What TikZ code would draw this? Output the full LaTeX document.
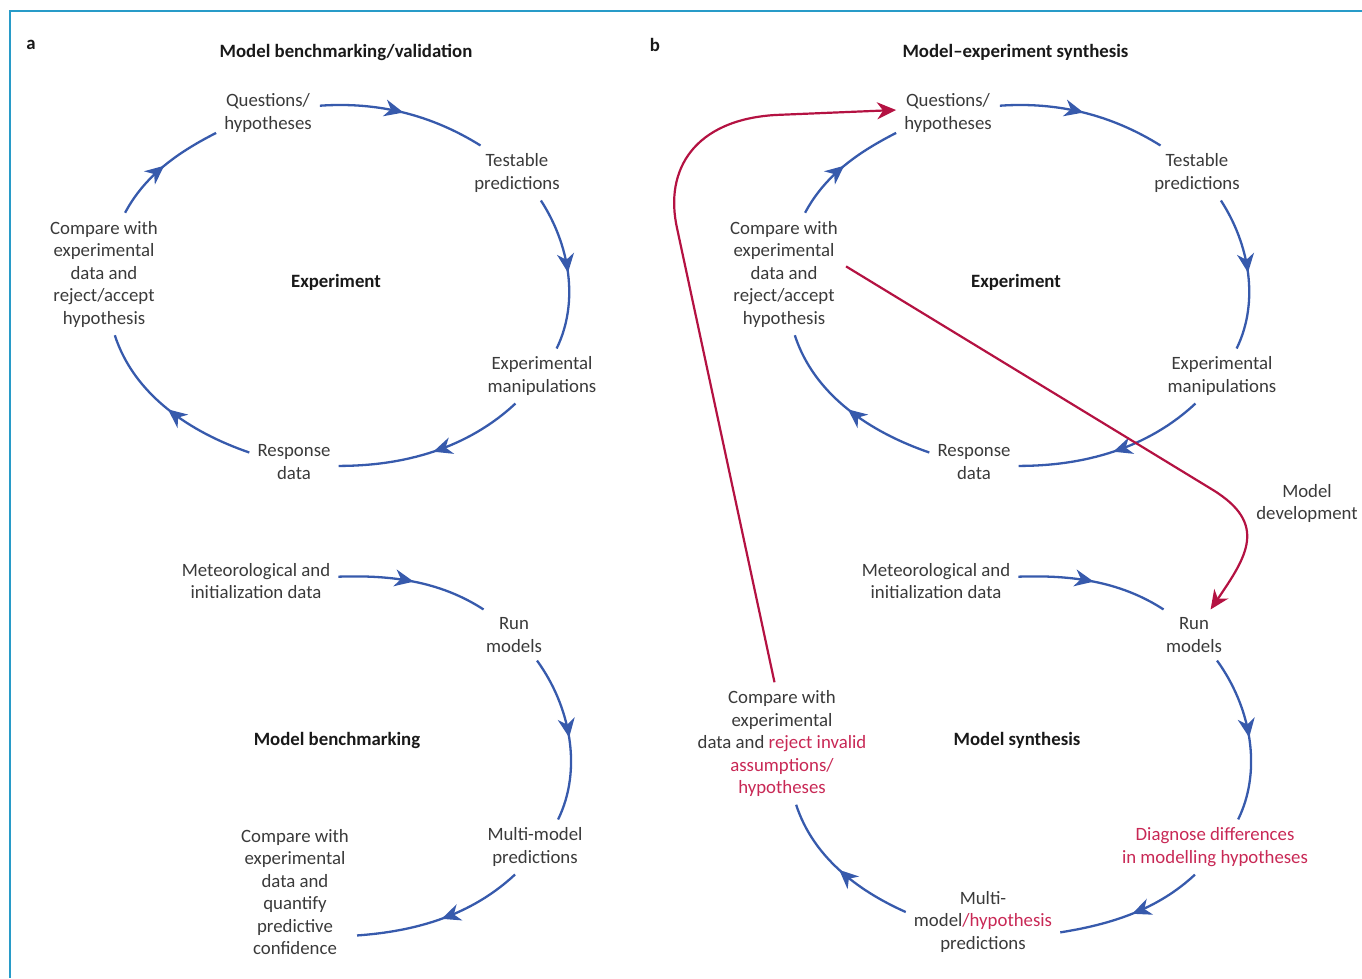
\documentclass[tikz,border=0pt]{standalone}
\usepackage{fontspec}
\setmainfont{Carlito}
\usetikzlibrary{arrows.meta,decorations.markings}

\definecolor{inkgray}{RGB}{58,58,58}
\definecolor{flowblue}{RGB}{55,90,172}
\definecolor{backred}{RGB}{180,18,66}
\definecolor{hyptext}{RGB}{200,40,85}
\definecolor{framecol}{RGB}{40,155,200}

\tikzset{
  lbl/.style={align=center, inner sep=8pt, text=inkgray, font=\fontsize{18.8}{22.5}\selectfont},
  hdr/.style={inner sep=0pt, text=black!90, font=\fontsize{18.8}{22.5}\selectfont\bfseries},
  flow/.style={flowblue, line width=2.3pt, looseness=0.9, postaction={decorate},
    decoration={markings, mark=at position 0.5 with {\arrow{Stealth[length=19pt,width=17pt,inset=6pt]}}}},
  back/.style={backred, line width=2.2pt, -{Stealth[length=19pt,width=17pt,inset=6pt]}}
}

\begin{document}
\begin{tikzpicture}[x=1pt,y=1pt]
     \useasboundingbox (0,0) rectangle (1362,-978);
     \draw[framecol, line width=1.5pt] (1362,-11) -- (10,-11) -- (10,-978);
     \node[hdr] at (31,-45) {a};
     \node[hdr] at (655,-45) {b};
     \node[hdr] (tta) at (346,-52) {Model benchmarking/validation};
     \node[hdr] (ttb) at (1015.5,-52) {Model–experiment synthesis};
     % a, experiment loop
     \node[lbl] (qa) at (268,-113) {Questions/\\hypotheses};
     \node[lbl] (ta) at (517,-173) {Testable\\predictions};
     \node[lbl] (ea) at (542,-376) {Experimental\\manipulations};
     \node[lbl] (ra) at (294,-462) {Response\\data};
     \node[lbl] (ca) at (104,-274) {Compare with\\experimental\\data and\\reject/accept\\hypothesis};
     \node[hdr] (xa) at (336,-282) {Experiment};
     \draw[flow] (qa.8) to[out=4,in=148] (ta.143);
     \draw[flow] (ta.-49) to[out=-57,in=64] (ea.62);
     \draw[flow] (ea.-134) to[out=-137,in=0] (ra.-5);
     \draw[flow] (ra.168) to[out=161,in=-72] (ca.-80);
     \draw[flow] (ca.71) to[out=62,in=-153] (qa.-159);
     % a, model loop
     \node[lbl] (ma) at (256,-581) {Meteorological and\\initialization data};
     \node[lbl] (ua) at (514,-635) {Run\\models};
     \node[lbl] (pa) at (535,-847) {Multi-model\\predictions};
     \node[lbl] (ka) at (295,-892) {Compare with\\experimental\\data and\\quantify\\predictive\\confidence};
     \node[hdr] (ya) at (337,-740) {Model benchmarking};
     \draw[flow] (ma.3) to[out=2,in=147] (ua.140);
     \draw[flow] (ua.-48) to[out=-54,in=64] (pa.50);
     \draw[flow] (pa.-126) to[out=-137,in=4] (ka.-35);
     % b, experiment loop
     \node[lbl] (qb) at (948,-113) {Questions/\\hypotheses};
     \node[lbl] (tb) at (1197,-173) {Testable\\predictions};
     \node[lbl] (eb) at (1222,-376) {Experimental\\manipulations};
     \node[lbl] (rb) at (974,-462) {Response\\data};
     \node[lbl] (cb) at (784,-274) {Compare with\\experimental\\data and\\reject/accept\\hypothesis};
     \node[hdr] (xb) at (1016,-282) {Experiment};
     \draw[flow] (qb.8) to[out=4,in=148] (tb.143);
     \draw[flow] (tb.-49) to[out=-57,in=64] (eb.62);
     \draw[flow] (eb.-134) to[out=-137,in=0] (rb.-5);
     \draw[flow] (rb.168) to[out=161,in=-72] (cb.-80);
     \draw[flow] (cb.71) to[out=62,in=-153] (qb.-159);
     % b, model loop
     \node[lbl] (mb) at (936,-581) {Meteorological and\\initialization data};
     \node[lbl] (ub) at (1194,-635) {Run\\models};
     \node[lbl, text=hyptext] (db) at (1215,-847) {Diagnose differences\\in modelling hypotheses};
     \node[lbl] (hb) at (983,-921.5) {Multi-\\model\textcolor{hyptext}{/hypothesis}\\predictions};
     \node[lbl] (gb) at (782,-743.5) {Compare with\\experimental\\data and \textcolor{hyptext}{reject invalid}\\\textcolor{hyptext}{assumptions/}\\\textcolor{hyptext}{hypotheses}};
     \node[hdr] (yb) at (1017,-740) {Model synthesis};
     \draw[flow] (mb.3) to[out=2,in=147] (ub.140);
     \draw[flow] (ub.-48) to[out=-54,in=64] (db.50);
     \draw[flow] (db.-126) to[out=-137,in=9] (hb.-8);
     \draw[flow] (hb.173) to[out=156,in=-72] (gb.-77);
     % feedback
     \node[lbl] (dev) at (1307,-503.5) {Model\\development};
     \draw[back] (gb.97) -- (677,-228) .. controls (664,-169) and (695,-120) .. (775,-115) -- ([yshift=3pt]qb.west);
     \draw[back] (cb.7) -- (1213,-490) .. controls (1268,-524) and (1247,-556) .. (ub.57);
\end{tikzpicture}
\end{document}
